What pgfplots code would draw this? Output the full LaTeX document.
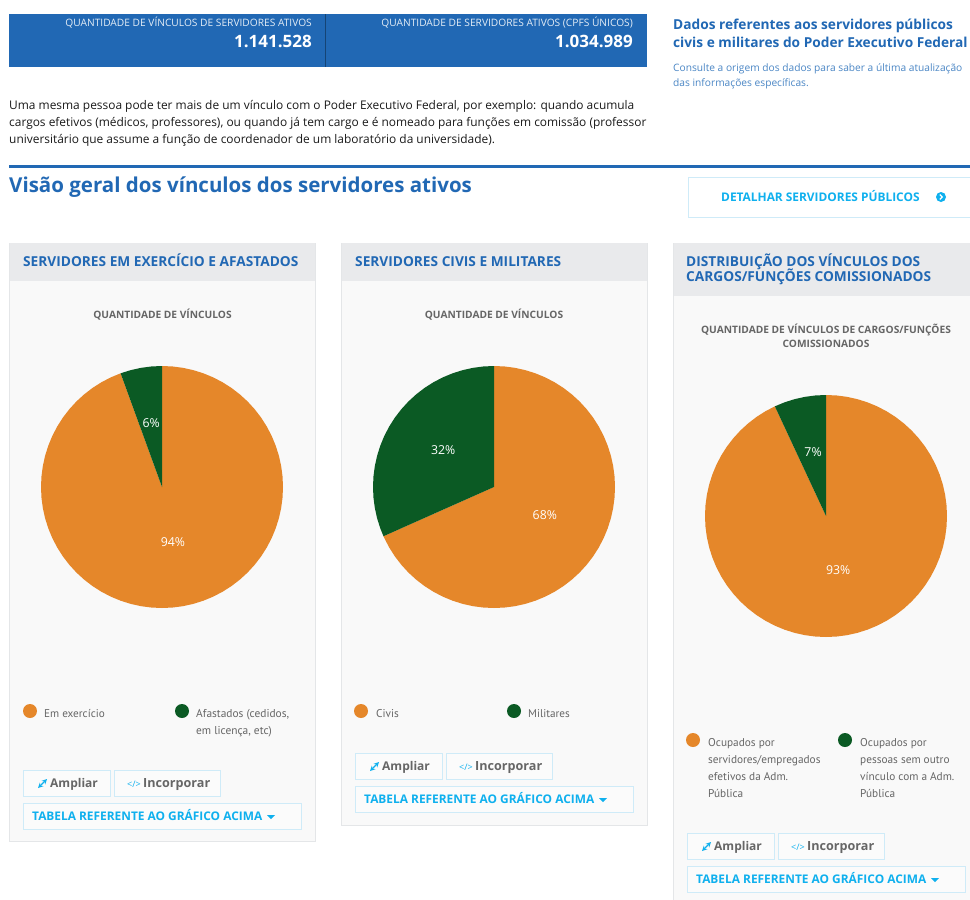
\documentclass[border=0pt]{standalone}
\usepackage{fontspec}
\usepackage{pgfplots}
\pgfplotsset{compat=1.18}
\usepgfplotslibrary{polar}
\setmainfont{Open Sans}
\newfontfamily\legf{PT Sans}
\definecolor{bluep}{HTML}{2168B4}
\definecolor{org}{HTML}{E5872A}
\definecolor{grn}{HTML}{0B5A24}
\definecolor{cyn}{HTML}{0FB0EE}
\definecolor{panel}{HTML}{F9F9F9}
\definecolor{head}{HTML}{E9EAEC}
\definecolor{edge}{HTML}{E4E6E8}
\definecolor{btn}{HTML}{CFEBF8}
\definecolor{gr}{HTML}{666666}
\definecolor{lblue}{HTML}{4A86C5}
\newcommand{\T}[7][base west]{\node[anchor=#1,inner sep=0pt,text=#6,font=\fontsize{#5}{#5}\selectfont #4] at (#2,#3) {#7};}
\newcommand{\rect}[6]{\path[fill=#5,draw=#6,line width=1pt] ({#1},{-(#2)}) rectangle ({#3},{-(#4)});}
\newcommand{\buttons}[2]{%
 \rect{#1}{#2}{#1+87}{#2+26}{white!40!panel}{btn}
 \rect{#1+91}{#2}{#1+197}{#2+26}{white!40!panel}{btn}
 \draw[cyn,line width=1.3pt,<->,>=stealth] (#1+15,-#2-18) -- (#1+24,-#2-9);
 \T{#1+27}{-#2-17.5}{\bfseries}{12}{gr}{Ampliar}
 \T{#1+104}{-#2-17}{}{9}{cyn}{</>}
 \T{#1+120}{-#2-17.5}{\bfseries}{12.6}{gr}{Incorporar}
 \rect{#1}{#2+33}{#1+278}{#2+59}{white!40!panel}{btn}
 \T{#1+9}{-#2-50}{\bfseries}{11.9}{cyn}{TABELA REFERENTE AO GRÁFICO ACIMA}
 \fill[cyn] (#1+244,-#2-45) -- (#1+252,-#2-45) -- (#1+248,-#2-49) -- cycle;
}
\pgfplotsset{pie/.style={scale only axis,width=242pt,height=242pt,xmin=-1,xmax=1,ymin=-1,ymax=1,hide axis,clip=false,data cs=polar,anchor=south west}}
\begin{document}
\begin{tikzpicture}[x=1pt,y=1pt]
\useasboundingbox (0,0) rectangle (970,-900);
\clip (0,0) rectangle (970,-900);
\fill[white] (0,0) rectangle (970,-900);
% banner
\fill[bluep] (9,-14) rectangle (647,-67);
\draw[black!35!bluep,line width=.6pt] (325.5,-14) -- (325.5,-67);
\T[base east]{312}{-26}{}{10.2}{white!88!bluep}{QUANTIDADE DE VÍNCULOS DE SERVIDORES ATIVOS}
\T[base east]{312}{-47}{\bfseries}{17}{white}{1.141.528}
\T[base east]{633}{-26}{}{10.2}{white!88!bluep}{QUANTIDADE DE SERVIDORES ATIVOS (CPFS ÚNICOS)}
\T[base east]{633}{-47}{\bfseries}{17}{white}{1.034.989}
% right text
\T{673}{-29}{\bfseries}{13.7}{bluep}{Dados referentes aos servidores públicos}
\T{673}{-47}{\bfseries}{13.7}{bluep}{civis e militares do Poder Executivo Federal}
\T{673}{-71}{}{10.2}{lblue}{Consulte a origem dos dados para saber a última atualização}
\T{673}{-86}{}{10.2}{lblue}{das informações específicas.}
% paragraph
\T{9}{-109}{}{11.92}{black!90}{Uma mesma pessoa pode ter mais de um vínculo com o Poder Executivo Federal, por exemplo: quando acumula}
\T{9}{-126}{}{11.92}{black!90}{cargos efetivos (médicos, professores), ou quando já tem cargo e é nomeado para funções em comissão (professor}
\T{9}{-143}{}{11.92}{black!90}{universitário que assume a função de coordenador de um laboratório da universidade).}
% rule + title
\fill[bluep] (9,-165) rectangle (970,-168);
\T{9}{-192}{\bfseries}{20.5}{bluep}{Visão geral dos vínculos dos servidores ativos}
% detail button
\path[fill=white,draw=btn,line width=1pt] (688,-177) rectangle (975,-217);
\T{721}{-201}{\bfseries}{11.9}{cyn}{DETALHAR SERVIDORES PÚBLICOS}
\fill[cyn] (941,-197) circle (5);
\draw[white,line width=1.2pt] (939.8,-194.5) -- (942.3,-197) -- (939.8,-199.5);
% panels
\rect{9.5}{243}{315}{841}{panel}{edge}
\path[fill=head] (9.5,-243) rectangle (315,-281);
\rect{341.5}{243}{647}{825}{panel}{edge}
\path[fill=head] (341.5,-243) rectangle (647,-281);
\rect{673.5}{243}{980}{910}{panel}{edge}
\path[fill=head] (673.5,-243) rectangle (980,-296);
\T{23}{-266.5}{\bfseries}{13.7}{bluep}{SERVIDORES EM EXERCÍCIO E AFASTADOS}
\T{355}{-266.5}{\bfseries}{13.7}{bluep}{SERVIDORES CIVIS E MILITARES}
\T{686}{-266.5}{\bfseries}{13.7}{bluep}{DISTRIBUIÇÃO DOS VÍNCULOS DOS}
\T{686}{-281.5}{\bfseries}{13.7}{bluep}{CARGOS/FUNÇÕES COMISSIONADOS}
\T[base]{162.5}{-318}{\bfseries}{10.2}{gr}{QUANTIDADE DE VÍNCULOS}
\T[base]{494}{-318}{\bfseries}{10.2}{gr}{QUANTIDADE DE VÍNCULOS}
\T[base]{826}{-333}{\bfseries}{10.2}{gr}{QUANTIDADE DE VÍNCULOS DE CARGOS/FUNÇÕES}
\T[base]{826}{-347}{\bfseries}{10.2}{gr}{COMISSIONADOS}
% pie 1
\begin{axis}[pie,at={(41pt,-608pt)}]
\addplot[fill=org,draw=none] coordinates {(0,0) (90,1) (85,1) (80,1) (75,1) (70,1) (65,1) (60,1) (55,1) (50,1) (45,1) (40,1) (35,1) (30,1) (25,1) (20,1) (15,1) (10,1) (5,1) (0,1) (-5,1) (-10,1) (-15,1) (-20,1) (-25,1) (-30,1) (-35,1) (-40,1) (-45,1) (-50,1) (-55,1) (-60,1) (-65,1) (-70,1) (-75,1) (-80,1) (-85,1) (-90,1) (-95,1) (-100,1) (-105,1) (-110,1) (-115,1) (-120,1) (-125,1) (-130,1) (-135,1) (-140,1) (-145,1) (-150,1) (-155,1) (-160,1) (-165,1) (-170,1) (-175,1) (-180,1) (-185,1) (-190,1) (-195,1) (-200,1) (-205,1) (-210,1) (-215,1) (-220,1) (-225,1) (-230,1) (-235,1) (-240,1) (-245,1) (-250,1)} -- cycle;
\addplot[fill=grn,draw=none] coordinates {(0,0) (-250,1) (-255,1) (-260,1) (-265,1) (-270,1)} -- cycle;
\node[text=white,font=\fontsize{12.3}{13}\selectfont] at (axis cs:0.09,-0.455) {94\%};
\node[text=white,font=\fontsize{12.3}{13}\selectfont] at (axis cs:-0.09,0.53) {6\%};
\end{axis}
% pie 2
\begin{axis}[pie,at={(373pt,-608pt)}]
\addplot[fill=org,draw=none] coordinates {(0,0) (90,1) (85,1) (80,1) (75,1) (70,1) (65,1) (60,1) (55,1) (50,1) (45,1) (40,1) (35,1) (30,1) (25,1) (20,1) (15,1) (10,1) (5,1) (0,1) (-5,1) (-10,1) (-15,1) (-20,1) (-25,1) (-30,1) (-35,1) (-40,1) (-45,1) (-50,1) (-55,1) (-60,1) (-65,1) (-70,1) (-75,1) (-80,1) (-85,1) (-90,1) (-95,1) (-100,1) (-105,1) (-110,1) (-115,1) (-120,1) (-125,1) (-130,1) (-135,1) (-140,1) (-145,1) (-150,1) (-155,1) (-156,1)} -- cycle;
\addplot[fill=grn,draw=none] coordinates {(0,0) (-156,1) (-160,1) (-165,1) (-170,1) (-175,1) (-180,1) (-185,1) (-190,1) (-195,1) (-200,1) (-205,1) (-210,1) (-215,1) (-220,1) (-225,1) (-230,1) (-235,1) (-240,1) (-245,1) (-250,1) (-255,1) (-260,1) (-265,1) (-270,1)} -- cycle;
\node[text=white,font=\fontsize{12.3}{13}\selectfont] at (axis cs:0.42,-0.23) {68\%};
\node[text=white,font=\fontsize{12.3}{13}\selectfont] at (axis cs:-0.42,0.306) {32\%};
\end{axis}
% pie 3
\begin{axis}[pie,at={(705pt,-637pt)}]
\addplot[fill=org,draw=none] coordinates {(0,0) (90,1) (85,1) (80,1) (75,1) (70,1) (65,1) (60,1) (55,1) (50,1) (45,1) (40,1) (35,1) (30,1) (25,1) (20,1) (15,1) (10,1) (5,1) (0,1) (-5,1) (-10,1) (-15,1) (-20,1) (-25,1) (-30,1) (-35,1) (-40,1) (-45,1) (-50,1) (-55,1) (-60,1) (-65,1) (-70,1) (-75,1) (-80,1) (-85,1) (-90,1) (-95,1) (-100,1) (-105,1) (-110,1) (-115,1) (-120,1) (-125,1) (-130,1) (-135,1) (-140,1) (-145,1) (-150,1) (-155,1) (-160,1) (-165,1) (-170,1) (-175,1) (-180,1) (-185,1) (-190,1) (-195,1) (-200,1) (-205,1) (-210,1) (-215,1) (-220,1) (-225,1) (-230,1) (-235,1) (-240,1) (-245,1)} -- cycle;
\addplot[fill=grn,draw=none] coordinates {(0,0) (-245,1) (-250,1) (-255,1) (-260,1) (-265,1) (-270,1)} -- cycle;
\node[text=white,font=\fontsize{12.3}{13}\selectfont] at (axis cs:0.1,-0.446) {93\%};
\node[text=white,font=\fontsize{12.3}{13}\selectfont] at (axis cs:-0.107,0.529) {7\%};
\end{axis}
% legends
\fill[org] (30,-711) circle (7); \T{44}{-717}{\legf}{11.2}{gr}{Em exercício}
\fill[grn] (182,-711) circle (7); \T{196}{-717}{\legf}{11.4}{gr}{Afastados (cedidos,}
\T{196}{-734}{\legf}{11.4}{gr}{em licença, etc)}
\fill[org] (361,-711) circle (7); \T{376}{-717}{\legf}{11.3}{gr}{Civis}
\fill[grn] (514,-711) circle (7); \T{528}{-717}{\legf}{11.2}{gr}{Militares}
\fill[org] (693,-740) circle (7); \fill[grn] (845,-740) circle (7);
\T{708}{-746}{\legf}{11.3}{gr}{Ocupados por}
\T{708}{-763}{\legf}{11.3}{gr}{servidores/empregados}
\T{708}{-780}{\legf}{11.3}{gr}{efetivos da Adm.}
\T{708}{-797}{\legf}{11.3}{gr}{Pública}
\T{860}{-746}{\legf}{11.3}{gr}{Ocupados por}
\T{860}{-763}{\legf}{11.3}{gr}{pessoas sem outro}
\T{860}{-780}{\legf}{11.3}{gr}{vínculo com a Adm.}
\T{860}{-797}{\legf}{11.3}{gr}{Pública}
% buttons
\buttons{23}{770}
\buttons{355}{753}
\buttons{687}{833}
\end{tikzpicture}
\end{document}
